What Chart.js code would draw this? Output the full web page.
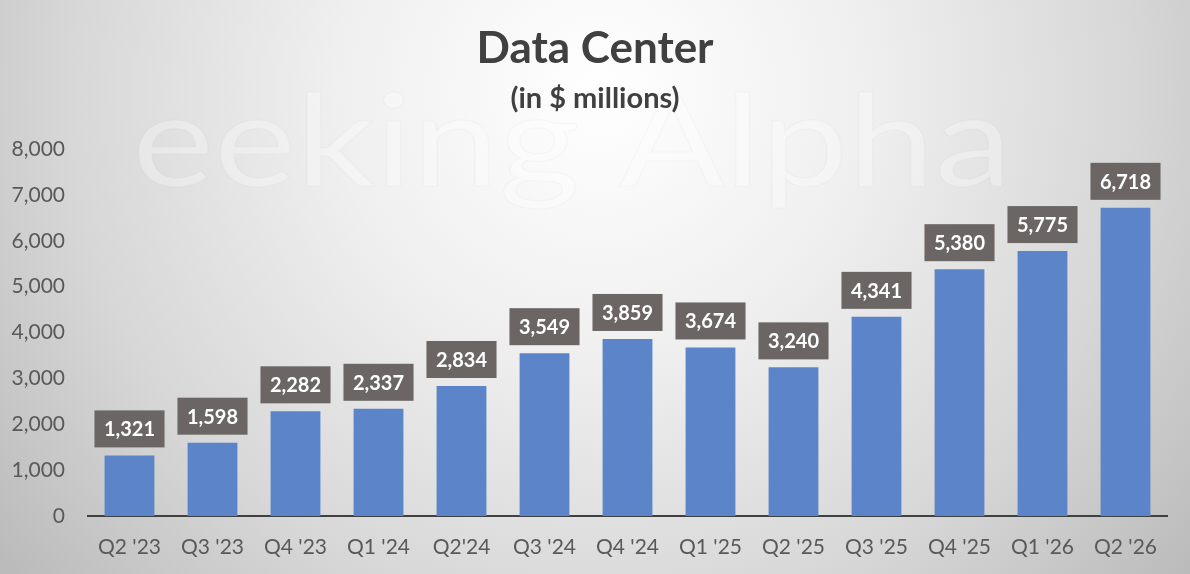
<!DOCTYPE html>
<html>
<head>
<meta charset="utf-8">
<script src="https://cdn.jsdelivr.net/npm/chart.js@4"></script>
<style>
  html, body { margin: 0; padding: 0; }
  #wrap { width: 1190px; height: 574px; position: relative; }
</style>
</head>
<body>
<div id="wrap"><canvas id="dc"></canvas></div>
<script>
// quarterly data center revenue, $ millions
const quarters = ["Q2 '23", "Q3 '23", "Q4 '23", "Q1 '24", "Q2'24", "Q3 '24", "Q4 '24",
                  "Q1 '25", "Q2 '25", "Q3 '25", "Q4 '25", "Q1 '26", "Q2 '26"];
const revenue = [1321, 1598, 2282, 2337, 2834, 3549, 3859, 3674, 3240, 4341, 5380, 5775, 6718];
const yMax = 8000;
const yStep = 1000;

const FONT = "Lato, 'Open Sans', sans-serif";

// gradient backdrop, watermark and titles
const backdrop = {
    id: 'backdrop',
    beforeDraw(chart) {
        const ctx = chart.ctx;
        const w = chart.width, h = chart.height;
        ctx.save();
        const g = ctx.createRadialGradient(600, 90, 0, 600, 90, 760);
        g.addColorStop(0, '#ffffff');
        g.addColorStop(0.35, '#efefef');
        g.addColorStop(0.7, '#d7d7d7');
        g.addColorStop(1, '#bbbbbb');
        ctx.fillStyle = g;
        ctx.fillRect(0, 0, w, h);

        // faint watermark
        ctx.font = "400 128px " + FONT;
        const txt = "eeking Alpha";
        const tw = ctx.measureText(txt).width;
        ctx.translate(132, 186);
        ctx.scale(880 / tw, 1);
        ctx.fillStyle = 'rgba(255,255,255,0.3)';
        ctx.strokeStyle = 'rgba(0,0,0,0.018)';
        ctx.lineWidth = 1.5;
        ctx.fillText(txt, 0, 0);
        ctx.strokeText(txt, 0, 0);
        ctx.restore();

        ctx.save();
        ctx.textAlign = 'center';
        ctx.textBaseline = 'alphabetic';
        ctx.fillStyle = '#404040';
        ctx.font = "bold 44px " + FONT;
        ctx.fillText("Data Center", 595, 63);
        ctx.font = "bold 29px " + FONT;
        ctx.fillText("(in $ millions)", 595, 108);
        ctx.restore();
    }
};

// grey value boxes over each bar
const valueBoxes = {
    id: 'valueBoxes',
    afterDatasetsDraw(chart) {
        const ctx = chart.ctx;
        const meta = chart.getDatasetMeta(0);
        ctx.save();
        ctx.font = "bold 20px " + FONT;
        ctx.textAlign = 'center';
        ctx.textBaseline = 'middle';
        meta.data.forEach(function (bar, i) {
            const label = revenue[i].toLocaleString('en-US');
            const bw = ctx.measureText(label).width + 19;
            const bh = 37;
            const bottom = bar.y - 8;
            ctx.fillStyle = '#6b6664';
            ctx.fillRect(bar.x - bw / 2, bottom - bh, bw, bh);
            ctx.fillStyle = '#ffffff';
            ctx.fillText(label, bar.x, bottom - bh / 2 + 1);
        });
        ctx.restore();
    }
};

new Chart(document.getElementById('dc'), {
    type: 'bar',
    data: {
        labels: quarters,
        datasets: [{
            data: revenue,
            backgroundColor: '#5b84c9',
            categoryPercentage: 1.0,
            barPercentage: 0.6
        }]
    },
    options: {
        responsive: true,
        maintainAspectRatio: false,
        animation: false,
        layout: { padding: { top: 149, left: 10, right: 23, bottom: 0 } },
        plugins: {
            legend: { display: false },
            tooltip: { enabled: false }
        },
        scales: {
            x: {
                grid: { display: false, drawTicks: false, tickLength: 0 },
                border: { display: true, color: '#404040', width: 2 },
                ticks: { color: '#595959', font: { family: FONT, size: 21 }, padding: 19, maxRotation: 0 },
                afterFit: function (scale) { scale.height = 58; }
            },
            y: {
                min: 0,
                max: yMax,
                grid: { display: false, drawTicks: false, tickLength: 0 },
                border: { display: false },
                ticks: {
                    stepSize: yStep,
                    color: '#595959',
                    font: { family: FONT, size: 21 },
                    padding: 23,
                    callback: function (v) { return v.toLocaleString('en-US'); }
                },
                afterFit: function (scale) { scale.width = 78; }
            }
        }
    },
    plugins: [backdrop, valueBoxes]
});
</script>
</body>
</html>
